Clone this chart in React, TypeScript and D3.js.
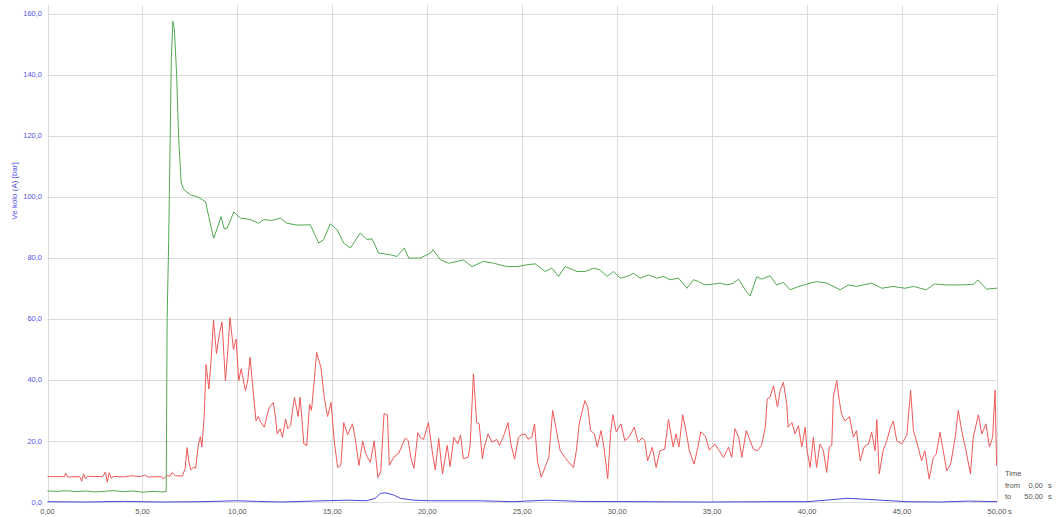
import React, { useEffect, useRef } from "react";
import * as d3 from "d3";

// pressure record, 0..50 s

const xTicks = [0, 5, 10, 15, 20, 25, 30, 35, 40, 45, 50];
const yTicks = [0, 20, 40, 60, 80, 100, 120, 140, 160];

// green trace (time s, value)
const greenT = [0, 0.5, 1, 1.5, 2, 2.5, 3, 3.5, 4, 4.5, 5, 5.5, 6, 6.25, 6.3, 6.38, 6.45, 6.52, 6.6, 6.68, 6.8, 6.9, 6.97, 7.04, 7.18, 7.53, 7.88, 8.32, 8.49, 8.75, 8.96, 9.14, 9.3, 9.46, 9.81, 10.16, 10.68, 11.12, 11.39, 11.8, 12.26, 12.61, 13.14, 13.84, 14.28, 14.54, 14.89, 15.25, 15.6, 15.95, 16.47, 16.82, 17.09, 17.44, 18.05, 18.4, 18.79, 19.02, 19.63, 20.16, 20.3, 20.7, 21.12, 21.56, 21.9, 22.35, 22.96, 23.49, 24.19, 24.72, 25.24, 25.68, 26.21, 26.56, 26.91, 27.26, 27.88, 28.32, 28.75, 29.1, 29.46, 29.81, 30.16, 30.51, 30.86, 31.21, 31.65, 32.09, 32.44, 32.79, 33.23, 33.67, 34.02, 34.28, 34.63, 35.07, 35.42, 35.77, 36.1, 36.39, 36.74, 37.0, 37.35, 37.6, 38.05, 38.4, 38.76, 39.1, 39.56, 40.0, 40.5, 41.04, 41.74, 42.17, 42.6, 43.4, 43.93, 44.53, 45.16, 45.6, 46.28, 46.7, 47.35, 48.13, 48.75, 49.0, 49.45, 49.9, 50];
const greenV = [3.6, 3.5, 3.7, 3.4, 3.6, 3.3, 3.5, 3.7, 3.4, 3.6, 3.2, 3.5, 3.3, 3.4, 60, 85, 115, 145, 157.5, 155, 140, 120, 112, 104.5, 102.3, 100.6, 100, 98.4, 93.5, 86.4, 90, 93.5, 89.5, 89.7, 95, 93, 92.5, 91.3, 92.5, 92.2, 93, 91.3, 90.7, 90.8, 84.8, 85.9, 91.1, 89.2, 84.8, 83.2, 88.1, 86, 86.2, 81.5, 81, 80.4, 83.2, 79.9, 79.9, 81.5, 82.6, 79.3, 78.2, 78.8, 79.3, 77.1, 78.8, 78.2, 77.1, 77.1, 77.7, 78, 75.5, 76.6, 73.9, 77.1, 75.5, 75.5, 76.6, 76, 73.9, 75.5, 73.3, 73.9, 74.9, 73.3, 74.4, 73.3, 73.9, 72.8, 73.3, 70.0, 72.8, 72.2, 71.1, 71.4, 71.7, 71.1, 71.6, 73.0, 69.5, 67.5, 73.8, 73.0, 74.1, 71.1, 71.9, 69.5, 70.6, 71.4, 72.2, 71.7, 69.5, 71.1, 70.6, 71.7, 70.0, 70.6, 70.0, 70.6, 69.5, 71.4, 71.1, 71.1, 71.3, 72.7, 69.7, 70.0, 70.0];

// red trace
const redT = [0, 0.9, 0.95, 1.05, 1.7, 1.8, 1.9, 2.0, 2.1, 2.9, 3.05, 3.15, 3.25, 3.35, 3.5, 4.0, 4.4, 4.9, 5.1, 5.3, 6.0, 6.1, 6.3, 6.45, 6.55, 6.75, 7.1, 7.25, 7.35, 7.45, 7.55, 7.7, 7.8, 7.95, 8.05, 8.13, 8.25, 8.35, 8.5, 8.6, 8.74, 8.9, 9.05, 9.19, 9.37, 9.5, 9.61, 9.79, 9.93, 10.07, 10.2, 10.42, 10.55, 10.67, 10.85, 10.98, 11.1, 11.24, 11.42, 11.55, 11.68, 11.89, 12.0, 12.1, 12.25, 12.37, 12.54, 12.65, 12.8, 13.0, 13.2, 13.3, 13.4, 13.5, 13.65, 13.8, 13.9, 14.05, 14.17, 14.4, 14.58, 14.75, 14.93, 15.1, 15.28, 15.45, 15.6, 15.8, 16.06, 16.2, 16.4, 16.6, 16.75, 16.85, 17.0, 17.2, 17.4, 17.55, 17.72, 17.9, 18.0, 18.24, 18.5, 18.7, 18.85, 19.0, 19.15, 19.3, 19.5, 19.65, 19.8, 20.06, 20.25, 20.42, 20.6, 20.8, 21.05, 21.2, 21.4, 21.6, 21.75, 21.9, 22.15, 22.26, 22.43, 22.6, 22.73, 22.9, 23.0, 23.2, 23.4, 23.66, 23.8, 24.04, 24.25, 24.4, 24.6, 24.8, 24.95, 25.15, 25.3, 25.5, 25.65, 25.8, 26.0, 26.2, 26.4, 26.6, 26.8, 27.0, 27.25, 27.45, 27.7, 27.85, 28.0, 28.15, 28.3, 28.45, 28.6, 28.8, 28.95, 29.15, 29.3, 29.5, 29.65, 29.77, 29.95, 30.2, 30.4, 30.65, 30.9, 31.1, 31.3, 31.45, 31.6, 31.85, 32.05, 32.25, 32.5, 32.7, 32.95, 33.1, 33.25, 33.45, 33.65, 33.8, 34.05, 34.25, 34.4, 34.65, 34.85, 35.15, 35.4, 35.6, 35.86, 36.03, 36.2, 36.4, 36.56, 36.8, 37.0, 37.17, 37.38, 37.6, 37.8, 37.9, 38.05, 38.23, 38.44, 38.58, 38.75, 38.93, 39.0, 39.2, 39.37, 39.54, 39.72, 39.9, 40.0, 40.16, 40.33, 40.5, 40.68, 40.86, 41.03, 41.17, 41.3, 41.38, 41.56, 41.7, 41.82, 42.0, 42.23, 42.44, 42.6, 42.8, 43.0, 43.23, 43.4, 43.58, 43.67, 43.8, 44.0, 44.2, 44.37, 44.54, 44.72, 44.98, 45.25, 45.45, 45.6, 45.8, 46.03, 46.2, 46.43, 46.65, 46.8, 47.0, 47.17, 47.35, 47.56, 47.8, 47.96, 48.14, 48.37, 48.6, 48.75, 49.02, 49.2, 49.42, 49.6, 49.77, 49.9, 49.98];
const redV = [8.3, 8.3, 9.5, 8.2, 8.3, 6.8, 9.2, 7.6, 8.4, 8.3, 9.8, 6.5, 9.6, 7.8, 8.4, 8.2, 8.6, 8.3, 8.8, 8.2, 8.3, 7.5, 8.8, 8.4, 9.6, 8.6, 8.5, 11, 17.8, 13, 10.5, 11.5, 11, 19, 21.4, 18, 28, 45, 37, 45, 59.5, 48.6, 55, 59, 39.7, 50, 60.4, 50, 53.4, 39.7, 43.6, 36.5, 40, 47.4, 35, 26.6, 28, 26, 24.5, 28, 31, 32.6, 28, 22.3, 24, 21.2, 27.2, 24, 25, 34.3, 28, 34.3, 27, 19, 18.5, 32, 30, 40, 49, 44, 34, 28, 32.6, 20, 11.3, 12, 26, 22, 25.6, 21, 12, 20, 16, 14.6, 13, 20, 8, 10, 28.9, 28.5, 12, 14.7, 16, 19, 21, 20, 14, 11, 22.7, 21, 20.5, 26, 17, 10.5, 20.8, 9.2, 18.5, 11.6, 21.2, 19, 22, 14.2, 14.6, 19, 42, 26, 25.6, 14.2, 18, 22.3, 19.6, 20.5, 18.5, 22, 26, 19, 14, 21.2, 22, 22.3, 20.6, 21.2, 25.5, 13.5, 8.1, 11.4, 14.6, 30, 23.4, 16.8, 14.6, 13, 11.3, 16.8, 25.6, 29.6, 33.2, 31, 23.4, 22.3, 18, 23.4, 18, 7.6, 22.3, 28.6, 23, 25.6, 20.1, 21.5, 24.5, 19.5, 21, 20.1, 13.5, 17.9, 11.3, 16.8, 17.3, 27, 18, 22.3, 18, 28.6, 22.3, 16.8, 12.4, 18, 23, 21.5, 17, 19, 16.5, 14.6, 18, 14.6, 24, 21.2, 14.6, 23.4, 20.1, 17.3, 16.8, 18.5, 24.5, 33.8, 34.3, 38.1, 31.1, 36.5, 39.2, 32, 24.5, 26, 22.3, 25, 18, 24.5, 16.8, 11.3, 21.2, 11.3, 19, 16.8, 9.7, 18, 18.5, 34.3, 39.8, 33, 28.6, 26.5, 28, 21.2, 23.4, 13.5, 18, 19, 22.8, 16.8, 27, 9.2, 16.8, 20.1, 24, 26.5, 20.1, 19, 21.8, 36.6, 23.4, 19, 13.5, 16.8, 7.5, 14.6, 15.7, 22.8, 16.8, 10.2, 12.4, 21.2, 30, 23.4, 16.8, 9.2, 21.2, 28.6, 22.3, 25.6, 18, 21.2, 36.6, 11.9];

// blue trace
const blueT = [0, 2, 4, 6, 8, 10, 11, 12.3, 14.5, 15.8, 16.8, 17.26, 17.53, 17.79, 18.23, 18.58, 19.28, 20.16, 22.8, 24.5, 26.3, 28, 31.2, 34.7, 38.2, 40, 41, 42.1, 43.1, 44.4, 45.3, 47, 48.5, 50];
const blueV = [0.1, 0, 0.2, 0, 0.1, 0.4, 0.2, 0, 0.4, 0.6, 0.4, 1.2, 2.8, 3.0, 2.3, 1.2, 0.6, 0.4, 0.4, 0.1, 0.6, 0.2, 0.1, 0, 0.1, 0.1, 0.6, 1.2, 0.9, 0.4, 0.1, 0, 0.3, 0.1];

const fmt = (v: number, d: number) => v.toFixed(d).replace(".", ",");

export default function App() {
  const ref = useRef<SVGSVGElement>(null);

  useEffect(() => {
    const svg = d3.select(ref.current);
    svg.selectAll("*").remove();

    const x = d3.scaleLinear().domain([0, 50]).range([47.5, 997]);
    const y = d3.scaleLinear().domain([0, 160]).range([502, 13.5]);
    const font = "'Liberation Sans', Arial, sans-serif";

    const grid = svg.append("g");
    // vertical grid
    grid.selectAll(".vg").data(xTicks).join("line")
      .attr("x1", d => Math.round(x(d)) + 0.5).attr("x2", d => Math.round(x(d)) + 0.5)
      .attr("y1", 5).attr("y2", 502)
      .attr("stroke", "#dcdcdc").attr("stroke-width", 1);
    // horizontal grid
    grid.selectAll(".hg").data(yTicks).join("line")
      .attr("x1", x(0)).attr("x2", x(50))
      .attr("y1", d => Math.round(y(d)) + 0.5).attr("y2", d => Math.round(y(d)) + 0.5)
      .attr("stroke", "#dcdcdc").attr("stroke-width", 1);

    // y tick labels
    svg.append("g").selectAll("text").data(yTicks).join("text")
      .attr("x", 42).attr("y", d => y(d) + 2.6)
      .attr("text-anchor", "end")
      .style("font-family", font).style("font-size", "7.5px")
      .attr("fill", "#5454e8")
      .text(d => fmt(d, 1));

    // x tick labels
    svg.append("g").selectAll("text").data(xTicks).join("text")
      .attr("x", d => x(d)).attr("y", 514)
      .attr("text-anchor", "middle")
      .style("font-family", font).style("font-size", "7.5px")
      .attr("fill", "#555")
      .text(d => fmt(d, 2));
    svg.append("text").attr("x", x(50) + 11).attr("y", 514)
      .style("font-family", font).style("font-size", "7.5px").attr("fill", "#555").text("s");

    // y axis title
    svg.append("text")
      .attr("transform", "translate(17,191) rotate(-90)")
      .attr("text-anchor", "middle")
      .style("font-family", font).style("font-size", "8px")
      .attr("fill", "#5454e8")
      .text("Ve kolo (A) [bar]");

    // time range box
    const info = svg.append("g").style("font-family", font).style("font-size", "7.5px").attr("fill", "#555");
    info.append("text").attr("x", 1005).attr("y", 476).text("Time");
    info.append("text").attr("x", 1005).attr("y", 488).text("from");
    info.append("text").attr("x", 1043).attr("y", 488).attr("text-anchor", "end").text("0,00");
    info.append("text").attr("x", 1048).attr("y", 488).text("s");
    info.append("text").attr("x", 1005).attr("y", 499).text("to");
    info.append("text").attr("x", 1043).attr("y", 499).attr("text-anchor", "end").text("50,00");
    info.append("text").attr("x", 1048).attr("y", 499).text("s");

    const series = [
      { t: blueT, v: blueV, color: "#4646da" },
      { t: redT, v: redV, color: "#f05858" },
      { t: greenT, v: greenV, color: "#52a852" },
    ];
    const line = d3.line<[number, number]>().x(d => x(d[0])).y(d => y(d[1]));
    series.forEach(s => {
      const pts = s.t.map((t, i) => [t, s.v[i]] as [number, number]);
      svg.append("path").datum(pts)
        .attr("d", line)
        .attr("fill", "none")
        .attr("stroke", s.color)
        .attr("stroke-width", 1)
        .attr("stroke-linejoin", "round");
    });
  }, []);

  return (
    <svg ref={ref} width={1060} height={517}
      style={{ position: "absolute", left: 0, top: 0, background: "#fff" }} />
  );
}
